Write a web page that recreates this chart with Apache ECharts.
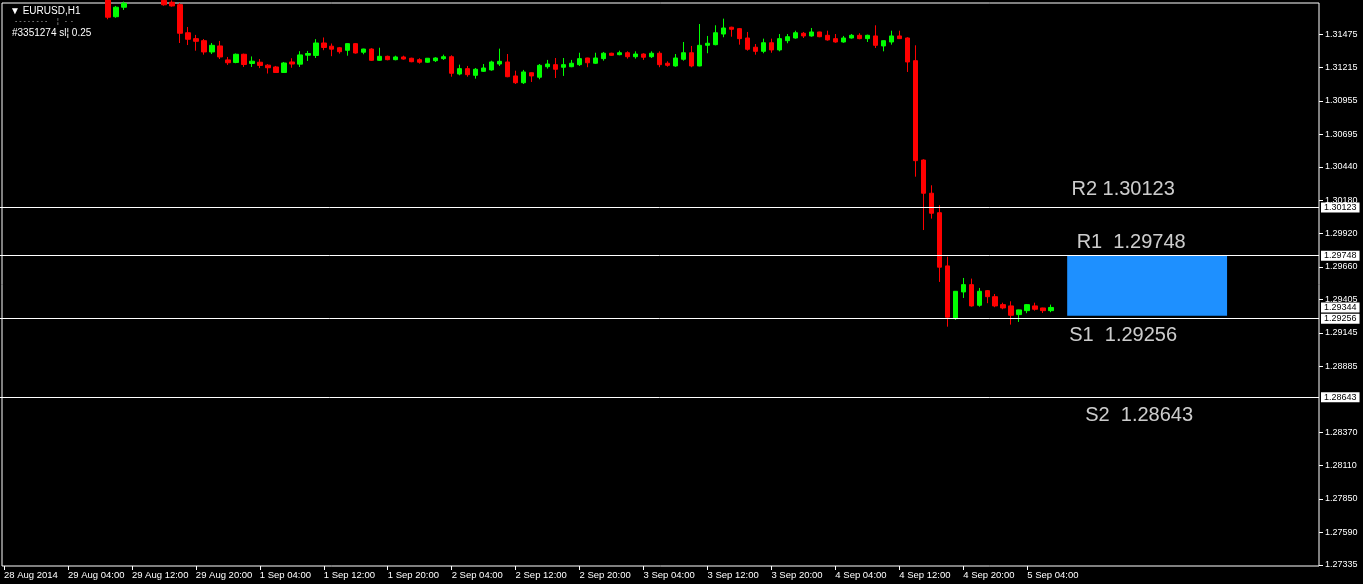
<!DOCTYPE html>
<html>
<head>
<meta charset="utf-8">
<script src="https://cdn.jsdelivr.net/npm/echarts@6/dist/echarts.min.js"></script>
<style>
  html, body { margin: 0; padding: 0; background: #000; }
  #chart { width: 1363px; height: 584px; }
</style>
</head>
<body>
<div id="chart"></div>
<script>
// EURUSD H1, bars from 28 Aug 2014 20:00 (broker time)
// each row: [open, close, low, high]
const candles = [
  [1.31880, 1.31905, 1.31860, 1.31930],
  [1.31905, 1.31890, 1.31870, 1.31920],
  [1.31890, 1.31875, 1.31860, 1.31905],
  [1.31875, 1.31885, 1.31860, 1.31900],
  [1.31885, 1.31870, 1.31855, 1.31895],
  [1.31870, 1.31860, 1.31845, 1.31885],
  [1.31860, 1.31850, 1.31835, 1.31875],
  [1.31850, 1.31865, 1.31840, 1.31880],
  [1.31865, 1.31855, 1.31840, 1.31875],
  [1.31855, 1.31840, 1.31820, 1.31870],
  [1.31840, 1.31810, 1.31790, 1.31850],
  [1.31810, 1.31790, 1.31760, 1.31825],
  [1.31790, 1.31760, 1.31721, 1.31800],
  [1.31760, 1.31608, 1.31592, 1.31775],
  [1.31612, 1.31686, 1.31604, 1.31696],
  [1.31686, 1.31717, 1.31665, 1.31730],
  [1.31722, 1.31765, 1.31720, 1.31780],
  [1.31765, 1.31790, 1.31750, 1.31805],
  [1.31790, 1.31770, 1.31755, 1.31800],
  [1.31770, 1.31745, 1.31730, 1.31785],
  [1.31740, 1.31705, 1.31698, 1.31755],
  [1.31725, 1.31696, 1.31690, 1.31740],
  [1.31706, 1.31483, 1.31407, 1.31719],
  [1.31487, 1.31436, 1.31391, 1.31532],
  [1.31441, 1.31420, 1.31347, 1.31470],
  [1.31425, 1.31337, 1.31316, 1.31438],
  [1.31337, 1.31389, 1.31321, 1.31407],
  [1.31384, 1.31298, 1.31282, 1.31423],
  [1.31275, 1.31253, 1.31236, 1.31298],
  [1.31255, 1.31319, 1.31249, 1.31325],
  [1.31319, 1.31239, 1.31220, 1.31324],
  [1.31247, 1.31265, 1.31220, 1.31302],
  [1.31257, 1.31232, 1.31211, 1.31282],
  [1.31234, 1.31214, 1.31169, 1.31242],
  [1.31220, 1.31177, 1.31173, 1.31228],
  [1.31177, 1.31251, 1.31173, 1.31259],
  [1.31259, 1.31243, 1.31214, 1.31288],
  [1.31242, 1.31314, 1.31220, 1.31343],
  [1.31312, 1.31325, 1.31267, 1.31345],
  [1.31310, 1.31407, 1.31290, 1.31437],
  [1.31407, 1.31372, 1.31351, 1.31450],
  [1.31382, 1.31359, 1.31304, 1.31403],
  [1.31370, 1.31339, 1.31324, 1.31376],
  [1.31350, 1.31402, 1.31308, 1.31404],
  [1.31402, 1.31329, 1.31324, 1.31407],
  [1.31335, 1.31360, 1.31319, 1.31362],
  [1.31360, 1.31272, 1.31267, 1.31366],
  [1.31272, 1.31303, 1.31267, 1.31370],
  [1.31303, 1.31277, 1.31272, 1.31308],
  [1.31277, 1.31298, 1.31272, 1.31308],
  [1.31298, 1.31282, 1.31277, 1.31308],
  [1.31288, 1.31261, 1.31257, 1.31292],
  [1.31277, 1.31257, 1.31246, 1.31288],
  [1.31257, 1.31288, 1.31253, 1.31290],
  [1.31269, 1.31290, 1.31259, 1.31296],
  [1.31285, 1.31300, 1.31275, 1.31316],
  [1.31300, 1.31171, 1.31144, 1.31311],
  [1.31165, 1.31207, 1.31155, 1.31238],
  [1.31207, 1.31160, 1.31144, 1.31228],
  [1.31155, 1.31202, 1.31129, 1.31212],
  [1.31186, 1.31212, 1.31181, 1.31243],
  [1.31197, 1.31259, 1.31191, 1.31269],
  [1.31243, 1.31264, 1.31228, 1.31363],
  [1.31259, 1.31144, 1.31140, 1.31321],
  [1.31150, 1.31097, 1.31087, 1.31191],
  [1.31097, 1.31181, 1.31087, 1.31197],
  [1.31175, 1.31150, 1.31103, 1.31178],
  [1.31140, 1.31233, 1.31124, 1.31243],
  [1.31222, 1.31243, 1.31207, 1.31275],
  [1.31238, 1.31202, 1.31134, 1.31290],
  [1.31218, 1.31238, 1.31150, 1.31290],
  [1.31222, 1.31249, 1.31218, 1.31275],
  [1.31238, 1.31285, 1.31228, 1.31331],
  [1.31290, 1.31253, 1.31218, 1.31292],
  [1.31249, 1.31290, 1.31243, 1.31331],
  [1.31285, 1.31327, 1.31269, 1.31337],
  [1.31327, 1.31311, 1.31306, 1.31331],
  [1.31316, 1.31331, 1.31311, 1.31347],
  [1.31331, 1.31300, 1.31285, 1.31342],
  [1.31300, 1.31321, 1.31285, 1.31342],
  [1.31321, 1.31296, 1.31275, 1.31327],
  [1.31300, 1.31327, 1.31290, 1.31342],
  [1.31327, 1.31238, 1.31218, 1.31342],
  [1.31249, 1.31233, 1.31222, 1.31264],
  [1.31228, 1.31290, 1.31222, 1.31321],
  [1.31280, 1.31331, 1.31269, 1.31415],
  [1.31331, 1.31228, 1.31218, 1.31384],
  [1.31228, 1.31389, 1.31225, 1.31555],
  [1.31389, 1.31405, 1.31327, 1.31462],
  [1.31394, 1.31487, 1.31389, 1.31545],
  [1.31477, 1.31524, 1.31452, 1.31597],
  [1.31530, 1.31514, 1.31456, 1.31534],
  [1.31519, 1.31441, 1.31394, 1.31524],
  [1.31446, 1.31358, 1.31347, 1.31493],
  [1.31374, 1.31342, 1.31316, 1.31399],
  [1.31342, 1.31409, 1.31327, 1.31441],
  [1.31409, 1.31353, 1.31331, 1.31441],
  [1.31353, 1.31441, 1.31342, 1.31477],
  [1.31425, 1.31456, 1.31405, 1.31477],
  [1.31446, 1.31487, 1.31441, 1.31503],
  [1.31483, 1.31462, 1.31446, 1.31493],
  [1.31462, 1.31493, 1.31456, 1.31524],
  [1.31493, 1.31456, 1.31452, 1.31495],
  [1.31467, 1.31431, 1.31425, 1.31503],
  [1.31441, 1.31415, 1.31409, 1.31477],
  [1.31415, 1.31446, 1.31409, 1.31462],
  [1.31446, 1.31467, 1.31441, 1.31477],
  [1.31467, 1.31441, 1.31436, 1.31483],
  [1.31441, 1.31467, 1.31415, 1.31472],
  [1.31462, 1.31389, 1.31368, 1.31545],
  [1.31384, 1.31425, 1.31342, 1.31427],
  [1.31415, 1.31462, 1.31394, 1.31503],
  [1.31462, 1.31441, 1.31439, 1.31503],
  [1.31446, 1.31259, 1.31181, 1.31452],
  [1.31269, 1.30489, 1.30364, 1.31389],
  [1.30494, 1.30235, 1.29948, 1.30500],
  [1.30235, 1.30079, 1.30037, 1.30297],
  [1.30083, 1.29658, 1.29543, 1.30141],
  [1.29668, 1.29268, 1.29194, 1.29740],
  [1.29257, 1.29470, 1.29247, 1.29472],
  [1.29465, 1.29522, 1.29418, 1.29574],
  [1.29522, 1.29356, 1.29350, 1.29569],
  [1.29361, 1.29470, 1.29350, 1.29496],
  [1.29475, 1.29428, 1.29377, 1.29480],
  [1.29428, 1.29356, 1.29346, 1.29449],
  [1.29366, 1.29340, 1.29330, 1.29381],
  [1.29356, 1.29283, 1.29210, 1.29392],
  [1.29288, 1.29325, 1.29231, 1.29327],
  [1.29319, 1.29366, 1.29299, 1.29371],
  [1.29356, 1.29330, 1.29319, 1.29381],
  [1.29340, 1.29319, 1.29301, 1.29342],
  [1.29319, 1.29344, 1.29307, 1.29366]
];

const barCount = 165; // visible slots incl. empty right shift
const timeLabels = [
  '28 Aug 2014', '29 Aug 04:00', '29 Aug 12:00', '29 Aug 20:00', '1 Sep 04:00',
  '1 Sep 12:00', '1 Sep 20:00', '2 Sep 04:00', '2 Sep 12:00', '2 Sep 20:00',
  '3 Sep 04:00', '3 Sep 12:00', '3 Sep 20:00', '4 Sep 04:00', '4 Sep 12:00',
  '4 Sep 20:00', '5 Sep 04:00'
];
const priceTicks = [
  1.27335, 1.27590, 1.27850, 1.28110, 1.28370, 1.28885, 1.29145, 1.29405,
  1.29660, 1.29920, 1.30180, 1.30440, 1.30695, 1.30955, 1.31215, 1.31475
];
const priceMin = 1.27327;
const priceMax = 1.31719;

const levelNames = ['R2', 'R1', 'S1', 'S2'];
const levelPrices = [1.30123, 1.29748, 1.29256, 1.28643];
const lastPrice = 1.29344;

// text objects on chart: bar index, price, text
const noteBars = [140, 141, 140, 142];
const notePrices = [1.30263, 1.29851, 1.29123, 1.28499];
const noteTexts = ['R2 1.30123', 'R1  1.29748', 'S1  1.29256', 'S2  1.28643'];

// blue box
const zoneBars = [133, 153];
const zonePrices = [1.29748, 1.29280];

// hourly categories, weekend skipped
const categories = [];
for (let t = Date.UTC(2014, 7, 28, 20); categories.length < barCount; t += 3600e3) {
  const d = new Date(t);
  const wd = d.getUTCDay();
  if (wd === 0 || wd === 6) continue;
  categories.push(d.getUTCDate() + ' ' + ['Aug', 'Sep'][d.getUTCMonth() - 7] + ' ' +
    String(d.getUTCHours()).padStart(2, '0') + ':00');
}

const fontFamily = '"Liberation Sans", Arial, sans-serif';
const showTick = (i) => i % 8 === 0 && i / 8 < timeLabels.length;

const boxLabel = {
  show: true,
  position: 'end',
  distance: 2,
  formatter: (p) => p.value.toFixed(5),
  color: '#000',
  backgroundColor: '#fff',
  padding: [1, 3, 0, 3],
  fontSize: 9,
  fontFamily
};

const chart = echarts.init(document.getElementById('chart'));

chart.setOption({
  backgroundColor: '#000',
  animation: false,
  title: [
    {
      text: '▼ EURUSD,H1',
      left: 5, top: 1,
      textStyle: { color: '#fff', fontSize: 10, fontWeight: 'normal', fontFamily }
    },
    {
      text: '- - - - - - - -     ¦   -  -',
      left: 10, top: 13,
      textStyle: { color: '#bbb', fontSize: 7, fontWeight: 'normal', fontFamily }
    },
    {
      text: '#3351274 sl\u00a6 0.25',
      left: 7, top: 23,
      textStyle: { color: '#fff', fontSize: 10, fontWeight: 'normal', fontFamily }
    }
  ],
  grid: [
    { left: -1, right: 44, top: 3, bottom: 18, show: false },
    { left: 2, right: 44, top: 3, bottom: 18, show: true, borderColor: '#fff', borderWidth: 1, backgroundColor: 'transparent' }
  ],
  xAxis: [
    {
      type: 'category',
      data: categories,
      boundaryGap: true,
      axisLine: { show: false },
      axisTick: {
        show: true, interval: showTick, alignWithLabel: true, length: 4,
        lineStyle: { color: '#fff' }
      },
      axisLabel: {
        interval: showTick,
        formatter: (v, i) => timeLabels[i / 8],
        color: '#fff', fontSize: 9.5, fontFamily, align: 'left', margin: 4
      },
      splitLine: { show: false }
    },
    { gridIndex: 1, type: 'value', show: false }
  ],
  yAxis: [
    {
      type: 'value',
      position: 'right',
      min: priceMin,
      max: priceMax,
      axisLine: { show: false },
      axisTick: {
        show: true, customValues: priceTicks, length: 4, inside: false,
        lineStyle: { color: '#fff' }
      },
      axisLabel: {
        customValues: priceTicks,
        formatter: (v) => v.toFixed(5),
        color: '#fff', fontSize: 9, fontFamily, margin: 6
      },
      splitLine: { show: false }
    },
    { gridIndex: 1, type: 'value', show: false }
  ],
  series: [
    {
      type: 'candlestick',
      data: candles,
      barWidth: 5,
      clip: true,
      itemStyle: {
        color: '#00ff00',
        color0: '#ff0000',
        borderColor: '#00ff00',
        borderColor0: '#ff0000',
        borderWidth: 1
      },
      markArea: {
        silent: true,
        itemStyle: { color: '#1e90ff', opacity: 1 },
        data: [[
          { xAxis: zoneBars[0], yAxis: zonePrices[0] },
          { xAxis: zoneBars[1], yAxis: zonePrices[1] }
        ]]
      },
      markLine: {
        silent: true,
        symbol: 'none',
        precision: 5,
        animation: false,
        lineStyle: { color: '#fff', width: 1, type: 'solid' },
        label: boxLabel,
        data: levelPrices.map((p, i) => ({ name: levelNames[i], yAxis: p }))
          .concat([{ name: 'Bid', yAxis: lastPrice, lineStyle: { color: 'rgba(0,0,0,0)' } }])
      }
    },
    {
      type: 'scatter',
      symbolSize: 1,
      itemStyle: { color: 'transparent' },
      silent: true,
      data: noteTexts.map((t, i) => ({ value: [noteBars[i], notePrices[i]], name: t })),
      label: {
        show: true,
        position: 'inside',
        formatter: (p) => p.name,
        color: '#fff',
        fontSize: 20,
        fontFamily
      }
    }
  ]
});
</script>
</body>
</html>
